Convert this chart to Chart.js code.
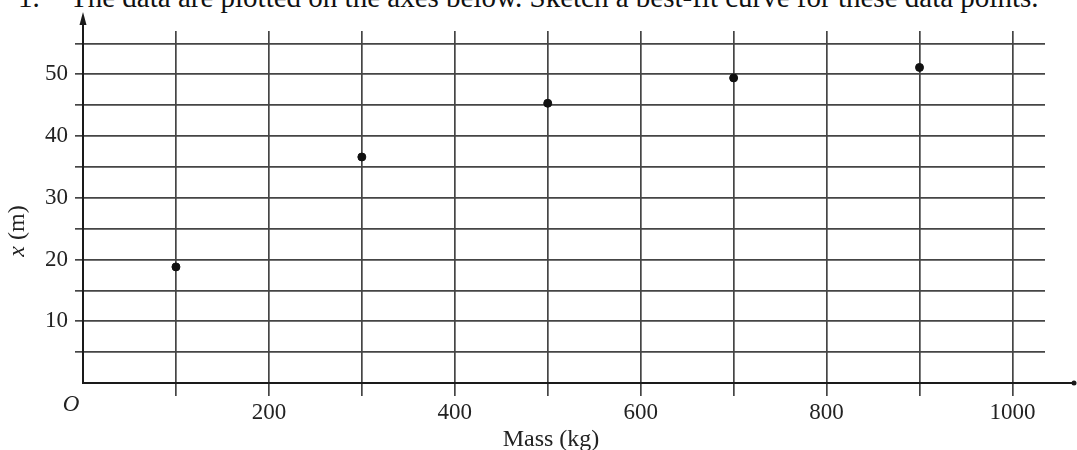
<!DOCTYPE html>
<html>
<head>
<meta charset="utf-8">
<script src="https://cdn.jsdelivr.net/npm/chart.js@4.4.0/dist/chart.umd.min.js"></script>
<style>
  html, body { margin: 0; padding: 0; background: #fff; overflow: hidden; }
  #wrap { position: relative; width: 1077px; height: 450px; overflow: hidden; }
  .question {
    position: absolute; top: -17px;
    font-family: "Liberation Serif", "DejaVu Serif", serif;
    font-size: 29px; line-height: 29px; color: #111; white-space: pre;
  }
  canvas { position: absolute; left: 0; top: 0; }
</style>
</head>
<body>
<div id="wrap">
  <div class="question" style="left:18px">1.</div>
  <div class="question" style="left:70px">The data are plotted on the axes below. Sketch a best-fit curve for these data points.</div>
  <canvas id="massChart" width="1077" height="450"></canvas>
</div>
<script>
// data
var masses = [100, 300, 500, 700, 900];          // kg
var distances = [18.8, 36.6, 45.3, 49.4, 51.1];  // m
var xTickLabels = [200, 400, 600, 800, 1000];
var yTickLabels = [10, 20, 30, 40, 50];

var serif = "'Liberation Serif', 'DejaVu Serif', serif";
var gridColor = '#454545';

// axis arrows, origin, axis titles
var extrasPlugin = {
    id: 'extras',
    afterDraw: function (chart) {
        var ctx = chart.ctx;
        var xs = chart.scales.x, ys = chart.scales.y;
        var ox = xs.getPixelForValue(0), oy = ys.getPixelForValue(0);
        var top = chart.chartArea.top, right = chart.chartArea.right;
        ctx.save();
        ctx.strokeStyle = '#1a1a1a';
        ctx.fillStyle = '#1a1a1a';
        ctx.lineWidth = 2;
        // y axis extension + arrow
        ctx.beginPath();
        ctx.moveTo(ox, top);
        ctx.lineTo(ox, 20);
        ctx.stroke();
        ctx.beginPath();
        ctx.moveTo(ox, 12);
        ctx.lineTo(ox - 3.5, 25);
        ctx.lineTo(ox + 3.5, 25);
        ctx.closePath();
        ctx.fill();
        // x axis extension + end mark
        ctx.beginPath();
        ctx.moveTo(right, oy);
        ctx.lineTo(1072, oy);
        ctx.stroke();
        ctx.beginPath();
        ctx.arc(1074, oy, 2.5, 0, Math.PI * 2);
        ctx.fill();

        ctx.fillStyle = '#222';
        // origin
        ctx.font = 'italic 23px ' + serif;
        ctx.textAlign = 'center';
        ctx.textBaseline = 'middle';
        ctx.fillText('O', ox - 12, 405);
        // x title
        ctx.font = '24px ' + serif;
        ctx.textBaseline = 'alphabetic';
        ctx.fillText('Mass (kg)', 551, 446);
        // y title
        ctx.translate(18, 231);
        ctx.rotate(-Math.PI / 2);
        ctx.textBaseline = 'middle';
        ctx.textAlign = 'left';
        ctx.font = 'italic 24px ' + serif;
        var xw = ctx.measureText('x').width;
        ctx.font = '24px ' + serif;
        var mw = ctx.measureText(' (m)').width;
        var start = -(xw + mw) / 2;
        ctx.font = 'italic 24px ' + serif;
        ctx.fillText('x', start, 0);
        ctx.font = '24px ' + serif;
        ctx.fillText(' (m)', start + xw, 0);
        ctx.restore();
    }
};

var ctx = document.getElementById('massChart').getContext('2d');
var massChart = new Chart(ctx, {
    type: 'scatter',
    data: {
        datasets: [{
            label: 'x (m)',
            data: masses.map(function (m, i) { return { x: m, y: distances[i] }; }),
            backgroundColor: '#111',
            borderColor: '#111',
            pointRadius: 4,
            pointHoverRadius: 4
        }]
    },
    options: {
        responsive: false,
        animation: false,
        layout: { padding: { top: 31, right: 32, left: 0, bottom: 0 } },
        plugins: {
            legend: { display: false },
            tooltip: { enabled: false }
        },
        scales: {
            x: {
                type: 'linear',
                min: 0,
                max: 1035,
                afterFit: function (scale) { scale.height = 67; },
                ticks: {
                    stepSize: 100,
                    includeBounds: false,
                    autoSkip: false,
                    maxRotation: 0,
                    padding: 3,
                    color: '#222',
                    font: { family: serif, size: 23 },
                    callback: function (v) { return xTickLabels.indexOf(v) >= 0 ? String(v) : ''; }
                },
                grid: {
                    color: function (c) { return c.tick && c.tick.value === 0 ? 'rgba(0,0,0,0)' : gridColor; },
                    lineWidth: 1.7,
                    tickLength: 13
                },
                border: { display: true, color: '#1a1a1a', width: 2 }
            },
            y: {
                type: 'linear',
                min: 0,
                max: 57,
                afterFit: function (scale) { scale.width = 83; },
                ticks: {
                    stepSize: 5,
                    includeBounds: false,
                    autoSkip: false,
                    padding: 7,
                    color: '#222',
                    font: { family: serif, size: 23 },
                    callback: function (v) { return yTickLabels.indexOf(v) >= 0 ? String(v) : ''; }
                },
                grid: {
                    color: function (c) { return c.tick && c.tick.value === 0 ? 'rgba(0,0,0,0)' : gridColor; },
                    lineWidth: 1.7,
                    tickLength: 8
                },
                border: { display: true, color: '#1a1a1a', width: 2 }
            }
        }
    },
    plugins: [extrasPlugin]
});
</script>
</body>
</html>
